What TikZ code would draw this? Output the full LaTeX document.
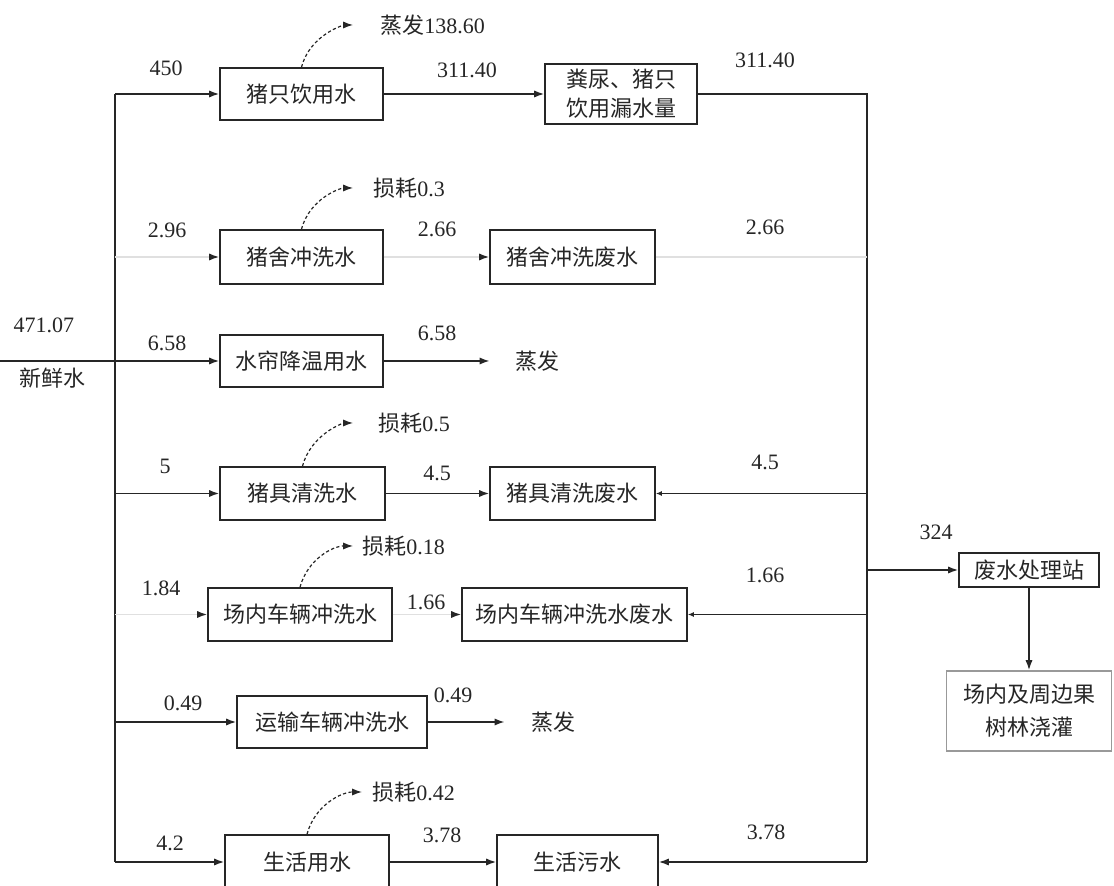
\documentclass[tikz,border=0pt]{standalone}
\usepackage{fontspec}
\setmainfont{Liberation Serif}
\newfontfamily\cjk{Noto Sans CJK SC}
\usetikzlibrary{arrows.meta}
\begin{document}
\begin{tikzpicture}[x=0.5pt,y=-0.5pt,
  every node/.style={text=black!85},
  box/.style={draw=black!85, line width=0.8pt, inner sep=0pt, align=center,
    font=\cjk\fontsize{11}{14.5}\selectfont},
  lbl/.style={inner sep=0pt, font=\fontsize{11}{13}\selectfont},
  clbl/.style={inner sep=0pt, font=\cjk\fontsize{11}{13}\selectfont},
  ln/.style={draw=black!85, line width=0.8pt},
  arr/.style={ln, -{Latex[length=5pt,width=3.6pt]}},
  farr/.style={draw=black!12, line width=0.8pt, -{Latex[length=5pt,width=3.6pt,color=black!85]}},
  fln/.style={draw=black!12, line width=0.8pt},
  loss/.style={draw=black!85, line width=0.6pt, dash pattern=on 1.6pt off 1.2pt,
    -{Latex[length=5pt,width=3.6pt]}}
]
\clip (0,0) rectangle (1114,886);
\fill[white] (0,0) rectangle (1114,886);

% boxes
\node[box, minimum width=81.5pt, minimum height=26pt] (b1) at (301.5,94) {猪只饮用水};
\node[box, minimum width=76pt, minimum height=30pt] (b2) at (621,94) {粪尿、猪只\\饮用漏水量};
\node[box, minimum width=81.5pt, minimum height=27pt] (b3) at (301.5,257) {猪舍冲洗水};
\node[box, minimum width=82.5pt, minimum height=27pt] (b4) at (572.5,257) {猪舍冲洗废水};
\node[box, minimum width=81.5pt, minimum height=26pt] (b5) at (301.5,361) {水帘降温用水};
\node[box, minimum width=82.5pt, minimum height=26.5pt] (b6) at (302.5,493.5) {猪具清洗水};
\node[box, minimum width=82.5pt, minimum height=26.5pt] (b7) at (572.5,493.5) {猪具清洗废水};
\node[box, minimum width=92pt, minimum height=26.5pt] (b8) at (300,614.5) {场内车辆冲洗水};
\node[box, minimum width=112.5pt, minimum height=26.5pt] (b9) at (574.5,614.5) {场内车辆冲洗水废水};
\node[box, minimum width=95pt, minimum height=26pt] (b10) at (332,722) {运输车辆冲洗水};
\node[box, minimum width=82pt, minimum height=27pt] (b11) at (307,862) {生活用水};
\node[box, minimum width=80.5pt, minimum height=27pt] (b12) at (577.5,862) {生活污水};
\node[box, minimum width=70pt, minimum height=17pt] (b13) at (1029,570) {废水处理站};
\node[box, minimum width=82.5pt, minimum height=40pt, draw=black!40,
  font=\cjk\fontsize{11}{16.5}\selectfont] (b14) at (1029,711) {场内及周边果\\树林浇灌};

% end texts
\node[clbl] (ev1) at (537,361) {蒸发};
\node[clbl] (ev2) at (553,722) {蒸发};

% bus and collector coordinates
\coordinate (in) at (0,361);
\coordinate (j1) at (115,94);
\coordinate (j3) at (115,257);
\coordinate (j5) at (115,361);
\coordinate (j6) at (115,493.5);
\coordinate (j8) at (115,614.5);
\coordinate (j10) at (115,722);
\coordinate (j11) at (115,862);
\coordinate (c1) at (867,94);
\coordinate (c4) at (867,257);
\coordinate (c7) at (867,493.5);
\coordinate (c9) at (867,614.5);
\coordinate (c13) at (867,570);
\coordinate (c12) at (867,862);

% fresh water bus
\draw[ln] (j1) -- (j11);
\draw[arr] (in) -- (b5);
\draw[arr] (j1) -- (b1);
\draw[farr] (j3) -- (b3);
\draw[arr] (j6) -- (b6);
\draw[farr] (j8) -- (b8);
\draw[arr] (j10) -- (b10);
\draw[arr] (j11) -- (b11);

% process flows
\draw[arr] (b1) -- (b2);
\draw[farr] (b3) -- (b4);
\draw[arr, shorten >=12.5pt] (b5) -- (ev1);
\draw[arr] (b6) -- (b7);
\draw[farr] (b8) -- (b9);
\draw[arr, shorten >=13pt] (b10) -- (ev2);
\draw[arr] (b11) -- (b12);

% collector
\draw[ln] (b2) -- (c1) -- (c12);
\draw[fln] (b4) -- (c4);
\draw[ln, -{Latex[length=3pt,width=2.5pt]}] (c7) -- (b7);
\draw[ln, -{Latex[length=3pt,width=2.5pt]}] (c9) -- (b9);
\draw[arr] (c12) -- (b12);
\draw[arr] (c13) -- (b13);
\draw[arr] (b13) -- (b14);

% loss labels and dashed curves
\node[lbl, anchor=west] (l1) at (380,25) {{\cjk 蒸发}138.60};
\node[lbl, anchor=west] (l3) at (373,188) {{\cjk 损耗}0.3};
\node[lbl, anchor=west] (l6) at (378,423) {{\cjk 损耗}0.5};
\node[lbl, anchor=west] (l8) at (362,546) {{\cjk 损耗}0.18};
\node[lbl, anchor=west] (l11) at (372,792) {{\cjk 损耗}0.42};
\draw[loss, shorten >=13.5pt] (b1.north) to[out=75,in=180] (l1.west);
\draw[loss, shorten >=10pt] (b3.north) to[out=75,in=180] (l3.west);
\draw[loss, shorten >=12.5pt] (b6.north) to[out=75,in=180] (l6.west);
\draw[loss, shorten >=4.5pt] (b8.north) to[out=75,in=180] (l8.west);
\draw[loss, shorten >=5pt] (b11.north) to[out=75,in=180] (l11.west);

% numbers
\node[lbl] (n1) at (166,68) {450};
\node[lbl] (n2) at (467,70) {311.40};
\node[lbl] (n3) at (765,60) {311.40};
\node[lbl] (n4) at (167,230) {2.96};
\node[lbl] (n5) at (437,229) {2.66};
\node[lbl] (n6) at (765,227) {2.66};
\node[lbl] (n7) at (44,325) {471.07};
\node[clbl] (n8) at (52,378) {新鲜水};
\node[lbl] (n9) at (167,343) {6.58};
\node[lbl] (n10) at (437,333) {6.58};
\node[lbl] (n11) at (165,466) {5};
\node[lbl] (n12) at (437,473) {4.5};
\node[lbl] (n13) at (765,462) {4.5};
\node[lbl] (n14) at (161,588) {1.84};
\node[lbl] (n15) at (426,602) {1.66};
\node[lbl] (n16) at (765,575) {1.66};
\node[lbl] (n17) at (936,532) {324};
\node[lbl] (n18) at (183,703) {0.49};
\node[lbl] (n19) at (453,695) {0.49};
\node[lbl] (n20) at (170,843) {4.2};
\node[lbl] (n21) at (442,835) {3.78};
\node[lbl] (n22) at (766,832) {3.78};
\end{tikzpicture}
\end{document}
